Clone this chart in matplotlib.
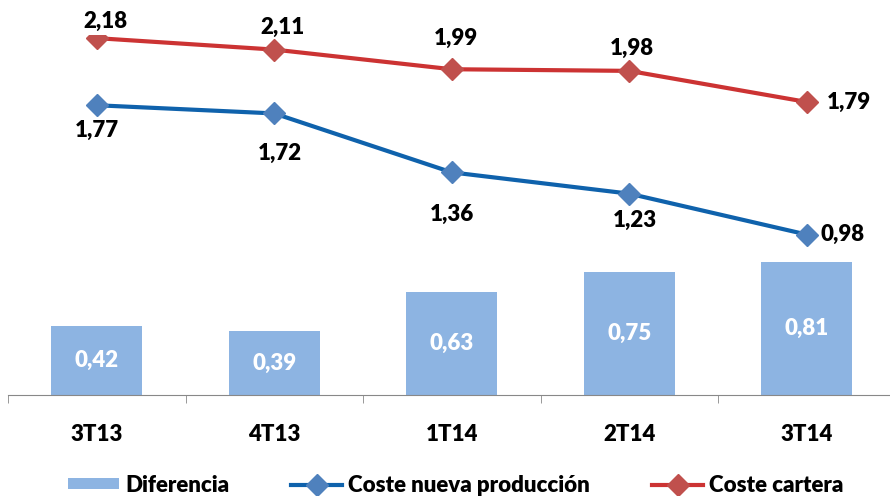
import matplotlib
matplotlib.use('Agg')
import matplotlib.pyplot as plt
from matplotlib.ticker import FixedLocator

plt.rcParams['font.family'] = ['Lato', 'DejaVu Sans']
plt.rcParams['font.weight'] = 'heavy'

# data
quarters = ['3T13', '4T13', '1T14', '2T14', '3T14']
diferencia = [0.42, 0.39, 0.63, 0.75, 0.81]
coste_nueva = [1.77, 1.72, 1.36, 1.23, 0.98]
coste_cartera = [2.18, 2.11, 1.99, 1.98, 1.79]

BAR_COLOR = '#8DB4E2'
BLUE_LINE, BLUE_MARK = '#0F62AC', '#4F81BD'
RED_LINE, RED_MARK = '#CC3333', '#C0504D'

# label offsets in points (dx, dy)
red_offsets = [(6, 12), (6, 16), (3, 22), (2, 16), (30, 0)]
blue_offsets = [(0, -18), (4, -29), (0, -30), (4, -19), (26, 0)]

FS = 16
W = 'heavy'

fig = plt.figure(figsize=(8.9, 4.96), dpi=100)
ax = fig.add_axes([8 / 890, 101 / 496, 887.5 / 890, 360 / 496])

x = list(range(len(quarters)))
bars = ax.bar(x, diferencia, width=0.51, color=BAR_COLOR, label='Diferencia', zorder=1)
l1, = ax.plot(x, coste_nueva, color=BLUE_LINE, lw=3, marker='D', ms=11,
              mfc=BLUE_MARK, mec=BLUE_MARK, label='Coste nueva producción', zorder=3)
l2, = ax.plot(x, coste_cartera, color=RED_LINE, lw=3, marker='D', ms=11,
              mfc=RED_MARK, mec=RED_MARK, label='Coste cartera', zorder=3)

fmt = lambda v: f'{v:.2f}'.replace('.', ',')

for xi, v in zip(x, diferencia):
    ax.text(xi, v / 2, fmt(v), ha='center', va='center', color='white',
            fontsize=FS, fontweight=W)
for xi, v, off in zip(x, coste_cartera, red_offsets):
    ax.annotate(fmt(v), (xi, v), xytext=off, textcoords='offset points',
                ha='center', va='center', fontsize=FS, fontweight=W)
for xi, v, off in zip(x, coste_nueva, blue_offsets):
    ax.annotate(fmt(v), (xi, v), xytext=off, textcoords='offset points',
                ha='center', va='center', fontsize=FS, fontweight=W)

ax.set_xlim(-0.5, len(quarters) - 0.5)
ax.set_ylim(0, 360 / 163.7)
ax.set_yticks([])
for side in ['left', 'right', 'top']:
    ax.spines[side].set_visible(False)
ax.spines['bottom'].set_color('#888888')
ax.set_xticks(x)
ax.set_xticklabels(quarters, fontsize=FS, fontweight=W)
ax.tick_params(axis='x', which='major', length=0, pad=21)
ax.xaxis.set_minor_locator(FixedLocator([i - 0.5 for i in range(len(quarters) + 1)]))
ax.tick_params(axis='x', which='minor', length=6, color='#888888')

fig.legend([bars, l1, l2], ['Diferencia', 'Coste nueva producción', 'Coste cartera'],
           loc='center', bbox_to_anchor=(0.512, 11 / 496), ncol=3, frameon=False,
           prop={'size': FS, 'weight': W}, handlelength=2.3, handleheight=0.4,
           columnspacing=2.8, handletextpad=0.25)

fig.savefig('out.png', dpi=100)
